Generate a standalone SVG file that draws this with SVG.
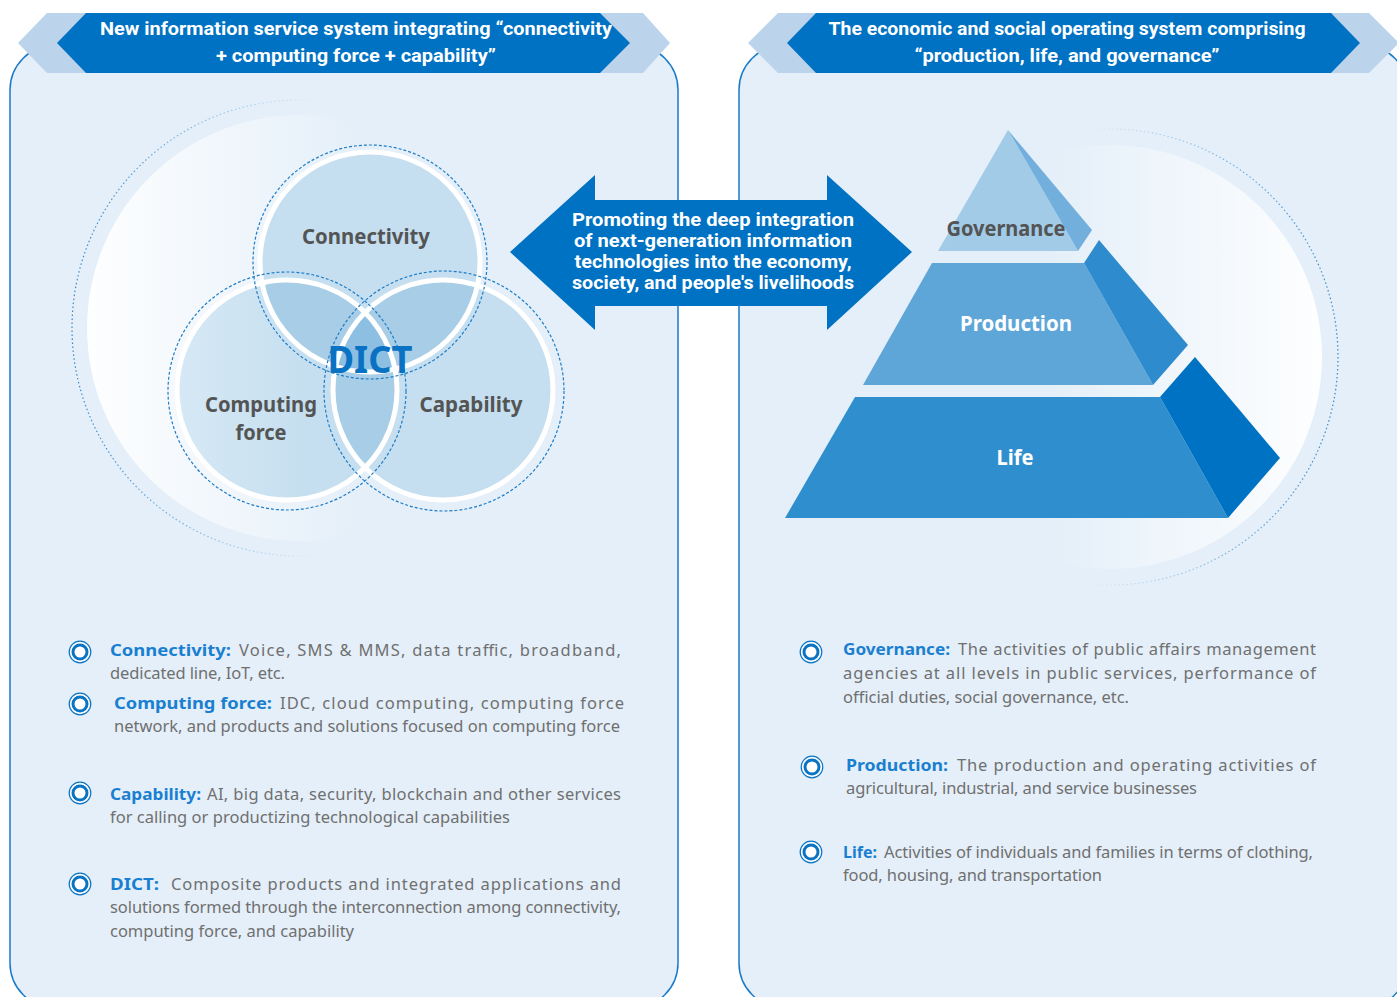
<svg xmlns="http://www.w3.org/2000/svg" width="1397" height="997" viewBox="0 0 1397 997">
<style>
.panel{fill:#E4EFF9;stroke:#1B7BC9;stroke-width:1.5}
.bnL{fill:#BCD3EC}
.bnD{fill:#0072C3}
.bnT{font-family:Roboto,"Noto Sans",sans-serif;font-weight:700;font-size:18px;fill:#fff;text-anchor:middle}
.arT{font-family:Roboto,"Noto Sans",sans-serif;font-weight:700;font-size:17.5px;fill:#fff;text-anchor:middle}
.vl{font-family:"Noto Sans","Open Sans",sans-serif;font-weight:700;font-size:21px;fill:#545454;text-anchor:middle}
.pw{font-family:"Noto Sans","Open Sans",sans-serif;font-weight:700;font-size:21px;fill:#fff;text-anchor:middle}
.lb{font-family:"Noto Sans","Open Sans",sans-serif;font-weight:700;font-size:16.5px;fill:#1A7FD0}
.bd{font-family:"Noto Sans","Open Sans",sans-serif;font-weight:400;font-size:16.5px;fill:#707070}
.cf{fill:#C5DFF0}
.c2{fill:#A8CDE7}
.c3{fill:#8CBFE2}
.ws{fill:none;stroke:#fff;stroke-width:5}
.dr{fill:none;stroke:#1E7DC8;stroke-width:1.2;stroke-dasharray:3 2}
</style>
<defs>
<symbol id="ico" viewBox="-12 -12 24 24" overflow="visible">
<circle r="10.8" fill="#fff" stroke="#0A74C4" stroke-width="1.2"/>
<circle r="7" fill="#fff" stroke="#0A74C4" stroke-width="3"/>
</symbol>
<clipPath id="clA"><circle cx="370" cy="262" r="110"/></clipPath>
<clipPath id="clB"><circle cx="287" cy="390" r="110"/></clipPath>
<clipPath id="clC"><circle cx="443" cy="390" r="110"/></clipPath>
<linearGradient id="glowL" x1="0" y1="0" x2="1" y2="0">
<stop offset="0" stop-color="#fff" stop-opacity="0.95"/>
<stop offset="0.65" stop-color="#fff" stop-opacity="0"/>
</linearGradient>
<linearGradient id="glowR" x1="1" y1="0" x2="0" y2="0">
<stop offset="0" stop-color="#fff" stop-opacity="0.95"/>
<stop offset="0.65" stop-color="#fff" stop-opacity="0"/>
</linearGradient>
<linearGradient id="dotL" x1="0" y1="0" x2="1" y2="0">
<stop offset="0" stop-color="#1E7DC8" stop-opacity="0.9"/>
<stop offset="0.55" stop-color="#1E7DC8" stop-opacity="0"/>
</linearGradient>
<linearGradient id="dotR" x1="1" y1="0" x2="0" y2="0">
<stop offset="0" stop-color="#1E7DC8" stop-opacity="0.9"/>
<stop offset="0.55" stop-color="#1E7DC8" stop-opacity="0"/>
</linearGradient>
<linearGradient id="cgB" x1="0" y1="0" x2="1" y2="0">
<stop offset="0" stop-color="#D6E8F5"/>
<stop offset="0.6" stop-color="#C5DFF0"/>
</linearGradient>
</defs>
<rect width="1397" height="997" fill="#fff"/>

<g id="panel-left">
<rect class="panel" x="10" y="45" width="668" height="963" rx="45"/>
<circle cx="300" cy="328" r="213" fill="url(#glowL)"/>
<circle cx="300" cy="328" r="228" fill="none" stroke="url(#dotL)" stroke-width="1.2" stroke-dasharray="1.5 2.5"/>
</g>
<g id="panel-right">
<rect class="panel" x="739" y="45" width="669" height="963" rx="45"/>
<circle cx="1110" cy="357" r="212" fill="url(#glowR)"/>
<circle cx="1110" cy="357" r="228" fill="none" stroke="url(#dotR)" stroke-width="1.2" stroke-dasharray="1.5 2.5"/>
</g>

<g id="banner-left">
<polygon class="bnL" points="18,43 47,13 643,13 670,43 643,73 47,73"/>
<polygon class="bnD" points="57,43 86,13 600,13 630,43 600,73 86,73"/>
<text class="bnT" x="356" y="35" textLength="512" lengthAdjust="spacingAndGlyphs">New information service system integrating “connectivity</text>
<text class="bnT" x="356" y="62" textLength="280" lengthAdjust="spacingAndGlyphs">+ computing force + capability”</text>
</g>
<g id="banner-right">
<polygon class="bnL" points="748,43 778,13 1369,13 1399,43 1369,73 778,73"/>
<polygon class="bnD" points="787,43 816,13 1331,13 1360,43 1331,73 816,73"/>
<text class="bnT" x="1067" y="35" textLength="477" lengthAdjust="spacingAndGlyphs">The economic and social operating system comprising</text>
<text class="bnT" x="1067" y="62" textLength="305" lengthAdjust="spacingAndGlyphs">“production, life, and governance”</text>
</g>

<g id="venn">
<circle class="cf" cx="370" cy="262" r="110"/>
<circle cx="287" cy="390" r="110" fill="url(#cgB)"/>
<circle class="cf" cx="443" cy="390" r="110"/>
<circle class="c2" cx="287" cy="390" r="110" clip-path="url(#clA)"/>
<circle class="c2" cx="443" cy="390" r="110" clip-path="url(#clA)"/>
<circle class="c2" cx="443" cy="390" r="110" clip-path="url(#clB)"/>
<g clip-path="url(#clA)"><circle class="c3" cx="443" cy="390" r="110" clip-path="url(#clB)"/></g>
<circle class="ws" cx="370" cy="262" r="110"/>
<circle class="ws" cx="287" cy="390" r="110"/>
<circle class="ws" cx="443" cy="390" r="110"/>
<circle class="dr" cx="370" cy="262" r="117"/>
<circle class="dr" cx="287" cy="391" r="119"/>
<circle class="dr" cx="444" cy="391" r="120"/>
</g>
<g id="node-connectivity"><text class="vl" x="366" y="244" textLength="128" lengthAdjust="spacingAndGlyphs">Connectivity</text></g>
<g id="node-computing"><text class="vl" x="261" y="412" textLength="112" lengthAdjust="spacingAndGlyphs">Computing</text><text class="vl" x="261" y="440" textLength="51" lengthAdjust="spacingAndGlyphs">force</text></g>
<g id="node-capability"><text class="vl" x="471" y="412" textLength="103" lengthAdjust="spacingAndGlyphs">Capability</text></g>
<g id="node-dict"><text x="370" y="373" font-family="'Noto Sans','Open Sans',sans-serif" font-weight="700" font-size="37" fill="#0A72C2" text-anchor="middle" textLength="85" lengthAdjust="spacingAndGlyphs">DICT</text></g>

<g id="pyramid">
<g id="node-governance">
<polygon points="1008,130 938,251 1078,251" fill="#A1CBE7"/>
<polygon points="1008,130 1092,230 1078,251" fill="#72AFDC"/>
<text class="vl" x="1006" y="236" textLength="119" lengthAdjust="spacingAndGlyphs">Governance</text>
</g>
<g id="node-production">
<polygon points="932,263 1084,263 1153,385 863,385" fill="#5EA6D8"/>
<polygon points="1084,263 1099,240 1188,345 1153,385" fill="#2E8BCD"/>
<text class="pw" x="1016" y="331" textLength="112" lengthAdjust="spacingAndGlyphs">Production</text>
</g>
<g id="node-life">
<polygon points="855,397 1160,397 1228,518 785,518" fill="#2F8ECE"/>
<polygon points="1160,397 1195,357 1280,458 1228,518" fill="#0072C3"/>
<text class="pw" x="1015" y="465" textLength="37" lengthAdjust="spacingAndGlyphs">Life</text>
</g>
</g>

<g id="connectors">
<polygon points="510,252 595,175 595,200 827,200 827,175 912,252 827,330 827,306 595,306 595,330" fill="#0072C3"/>
<text class="arT" x="713" y="226" textLength="282" lengthAdjust="spacingAndGlyphs">Promoting the deep integration</text>
<text class="arT" x="713" y="247" textLength="278" lengthAdjust="spacingAndGlyphs">of next-generation information</text>
<text class="arT" x="713" y="268" textLength="277" lengthAdjust="spacingAndGlyphs">technologies into the economy,</text>
<text class="arT" x="713" y="289" textLength="282" lengthAdjust="spacingAndGlyphs">society, and people's livelihoods</text>
</g>

<g id="list-left">
<g id="item-connectivity">
<use href="#ico" x="68" y="640" width="24" height="24"/>
<text class="lb" x="110" y="656" textLength="121" lengthAdjust="spacingAndGlyphs">Connectivity:</text>
<text class="bd" x="239" y="656" textLength="382" lengthAdjust="spacing">Voice, SMS &amp; MMS, data traffic, broadband,</text>
<text class="bd" x="110" y="679" textLength="175" lengthAdjust="spacing">dedicated line, IoT, etc.</text>
</g>
<g id="item-computing">
<use href="#ico" x="68" y="692" width="24" height="24"/>
<text class="lb" x="114" y="709" textLength="158" lengthAdjust="spacingAndGlyphs">Computing force:</text>
<text class="bd" x="280" y="709" textLength="344" lengthAdjust="spacing">IDC, cloud computing, computing force</text>
<text class="bd" x="114" y="732" textLength="506" lengthAdjust="spacing">network, and products and solutions focused on computing force</text>
</g>
<g id="item-capability">
<use href="#ico" x="68" y="781" width="24" height="24"/>
<text class="lb" x="110" y="800" textLength="91" lengthAdjust="spacingAndGlyphs">Capability:</text>
<text class="bd" x="207" y="800" textLength="414" lengthAdjust="spacing">AI, big data, security, blockchain and other services</text>
<text class="bd" x="110" y="823" textLength="400" lengthAdjust="spacing">for calling or productizing technological capabilities</text>
</g>
<g id="item-dict">
<use href="#ico" x="68" y="872" width="24" height="24"/>
<text class="lb" x="110" y="890" textLength="49" lengthAdjust="spacingAndGlyphs">DICT:</text>
<text class="bd" x="171" y="890" textLength="450" lengthAdjust="spacing">Composite products and integrated applications and</text>
<text class="bd" x="110" y="913" textLength="511" lengthAdjust="spacing">solutions formed through the interconnection among connectivity,</text>
<text class="bd" x="110" y="937" textLength="244" lengthAdjust="spacing">computing force, and capability</text>
</g>
</g>

<g id="list-right">
<g id="item-governance">
<use href="#ico" x="799" y="640" width="24" height="24"/>
<text class="lb" x="843" y="655" textLength="107" lengthAdjust="spacingAndGlyphs">Governance:</text>
<text class="bd" x="958" y="655" textLength="358" lengthAdjust="spacing">The activities of public affairs management</text>
<text class="bd" x="843" y="679" textLength="473" lengthAdjust="spacing">agencies at all levels in public services, performance of</text>
<text class="bd" x="843" y="703" textLength="286" lengthAdjust="spacing">official duties, social governance, etc.</text>
</g>
<g id="item-production">
<use href="#ico" x="800" y="755" width="24" height="24"/>
<text class="lb" x="846" y="771" textLength="102" lengthAdjust="spacingAndGlyphs">Production:</text>
<text class="bd" x="957" y="771" textLength="359" lengthAdjust="spacing">The production and operating activities of</text>
<text class="bd" x="846" y="794" textLength="351" lengthAdjust="spacing">agricultural, industrial, and service businesses</text>
</g>
<g id="item-life">
<use href="#ico" x="799" y="840" width="24" height="24"/>
<text class="lb" x="843" y="858" textLength="34" lengthAdjust="spacingAndGlyphs">Life:</text>
<text class="bd" x="884" y="858" textLength="429" lengthAdjust="spacing">Activities of individuals and families in terms of clothing,</text>
<text class="bd" x="843" y="881" textLength="259" lengthAdjust="spacing">food, housing, and transportation</text>
</g>
</g>
</svg>
